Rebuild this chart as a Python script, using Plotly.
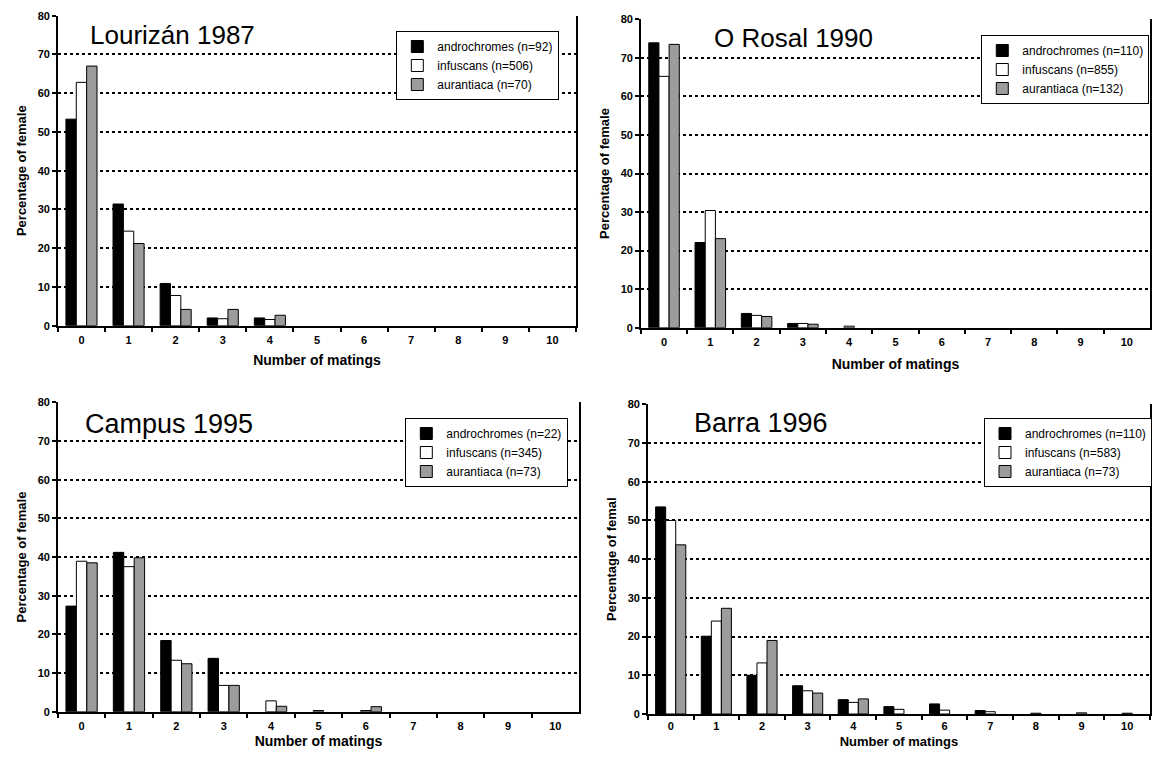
import plotly.graph_objects as go

matings = ["0", "1", "2", "3", "4", "5", "6", "7", "8", "9", "10"]
series_names = ["androchromes", "infuscans", "aurantiaca"]

# Lourizán 1987
lour_andro = [53.3, 31.4, 10.9, 2.0, 2.0, 0, 0, 0, 0, 0, 0]
lour_infus = [62.8, 24.4, 7.8, 1.8, 1.6, 0, 0, 0, 0, 0, 0]
lour_auran = [67.0, 21.2, 4.2, 4.2, 2.7, 0, 0, 0, 0, 0, 0]
lour_n = [92, 506, 70]

# O Rosal 1990
rosal_andro = [73.9, 22.1, 3.7, 1.1, 0, 0, 0, 0, 0, 0, 0]
rosal_infus = [65.2, 30.4, 3.2, 1.1, 0.4, 0, 0, 0, 0, 0, 0]
rosal_auran = [73.5, 23.1, 2.9, 0.9, 0, 0, 0, 0, 0, 0, 0]
rosal_n = [110, 855, 132]

# Campus 1995
camp_andro = [27.3, 41.2, 18.4, 13.8, 0, 0, 0, 0, 0, 0, 0]
camp_infus = [38.9, 37.5, 13.3, 6.8, 2.8, 0.3, 0.3, 0, 0, 0, 0]
camp_auran = [38.5, 39.8, 12.4, 6.8, 1.4, 0, 1.3, 0, 0, 0, 0]
camp_n = [22, 345, 73]

# Barra 1996
barra_andro = [53.5, 20.1, 10.0, 7.3, 3.7, 1.9, 2.6, 0.9, 0, 0, 0]
barra_infus = [50.0, 24.0, 13.2, 6.0, 3.0, 1.2, 1.0, 0.6, 0.2, 0.3, 0.2]
barra_auran = [43.7, 27.3, 19.0, 5.4, 3.9, 0, 0, 0, 0, 0, 0]
barra_n = [110, 583, 73]

panel_titles = ["Lourizán 1987", "O Rosal 1990", "Campus 1995", "Barra 1996"]
y_titles = ["Percentage of female", "Percentage of female",
            "Percentage of female", "Percentage of femal"]
x_title = "Number of matings"
y_ticks = [0, 10, 20, 30, 40, 50, 60, 70, 80]

panels = [
    (lour_andro, lour_infus, lour_auran, lour_n),
    (rosal_andro, rosal_infus, rosal_auran, rosal_n),
    (camp_andro, camp_infus, camp_auran, camp_n),
    (barra_andro, barra_infus, barra_auran, barra_n),
]

# the page body has an 8px margin, so the figure is sized to fit inside it
OFF = 8
W, H = 1160 - 2 * OFF, 757 - 2 * OFF


def px(x):
    return min(max((x - OFF) / W, 0), 1)


def py(y):
    return min(max(1 - (y - OFF) / H, 0), 1)


# pixel boxes in window coords: (left, right, top, bottom)
boxes = [(58, 577, 15.7, 325.7), (642, 1152, 19.3, 327.7),
         (58, 580, 402.3, 711.7), (649, 1152, 404.3, 714.0)]
legend_pos = [(397, 31), (983, 35), (406, 418), (986, 418)]
title_pos = [(173, 35, 26), (795, 38, 26), (169, 424, 27), (762, 423, 27)]
xtitle_standoff = [10, 12, 10, 6]
xtitle_size = [14, 14, 14, 13]
xlabel_standoff = [3, 3, 3, 1]

colors = ["#000000", "#ffffff", "#9c9c9c"]
FONT = "Liberation Sans, Arial, sans-serif"

fig = go.Figure()
for i, (a, b, c, ns) in enumerate(panels):
    k = "" if i == 0 else str(i + 1)
    leg = "legend" + k
    for j, vals in enumerate([a, b, c]):
        fig.add_trace(go.Bar(
            x=matings, y=[v if v else None for v in vals],
            name=f"{series_names[j]} (n={ns[j]})",
            marker=dict(color=colors[j], line=dict(color="#000000", width=1)),
            xaxis="x" + k, yaxis="y" + k, legend=leg,
            hoverinfo="skip",
        ))

layout = dict(
    template="none",
    width=W, height=H, margin=dict(l=0, r=0, t=0, b=0),
    paper_bgcolor="white", plot_bgcolor="white",
    barmode="group", bargap=0.34, bargroupgap=0,
    font=dict(family=FONT, color="black"),
    showlegend=True,
)
annotations = []
for i, (l, r, t, btm) in enumerate(boxes):
    k = "" if i == 0 else str(i + 1)
    layout["xaxis" + k] = dict(
        domain=[px(l), px(r)], anchor="y" + k, type="category",
        categoryorder="array", categoryarray=matings, automargin=False,
        showline=True, linecolor="black", linewidth=2,
        ticks="outside", tickson="boundaries", ticklen=4, tickcolor="black",
        tickwidth=1.5, ticklabelstandoff=xlabel_standoff[i],
        tickfont=dict(size=11, weight="bold"),
        title=dict(text=x_title, font=dict(size=xtitle_size[i], weight="bold"),
                   standoff=xtitle_standoff[i]),
        showgrid=False, zeroline=False, fixedrange=True,
    )
    layout["yaxis" + k] = dict(
        domain=[py(btm), py(t)], anchor="x" + k, range=[0, 80],
        tickvals=y_ticks, automargin=False,
        showline=True, linecolor="black", linewidth=1.5, mirror=True,
        ticks="outside", ticklen=4, tickcolor="black", tickwidth=1.5,
        tickfont=dict(size=11, weight="bold"),
        showgrid=True, gridcolor="black", griddash="dot", gridwidth=1.5,
        zeroline=False,
        title=dict(text=y_titles[i], font=dict(size=13, weight="bold"), standoff=8),
        fixedrange=True,
    )
    lx, ly = legend_pos[i]
    layout["legend" + k] = dict(
        x=px(lx), y=py(ly), xanchor="left", yanchor="top",
        bgcolor="white", bordercolor="black", borderwidth=1,
        font=dict(size=12, family=FONT), itemwidth=30,
        tracegroupgap=0,
    )
    tx, ty, ts = title_pos[i]
    annotations.append(dict(
        text=panel_titles[i], x=px(tx), y=py(ty), xref="paper", yref="paper",
        xanchor="center", yanchor="middle", showarrow=False,
        font=dict(size=ts, family=FONT, color="black"),
    ))
layout["annotations"] = annotations
fig.update_layout(**layout)
fig.write_html("out.html")
